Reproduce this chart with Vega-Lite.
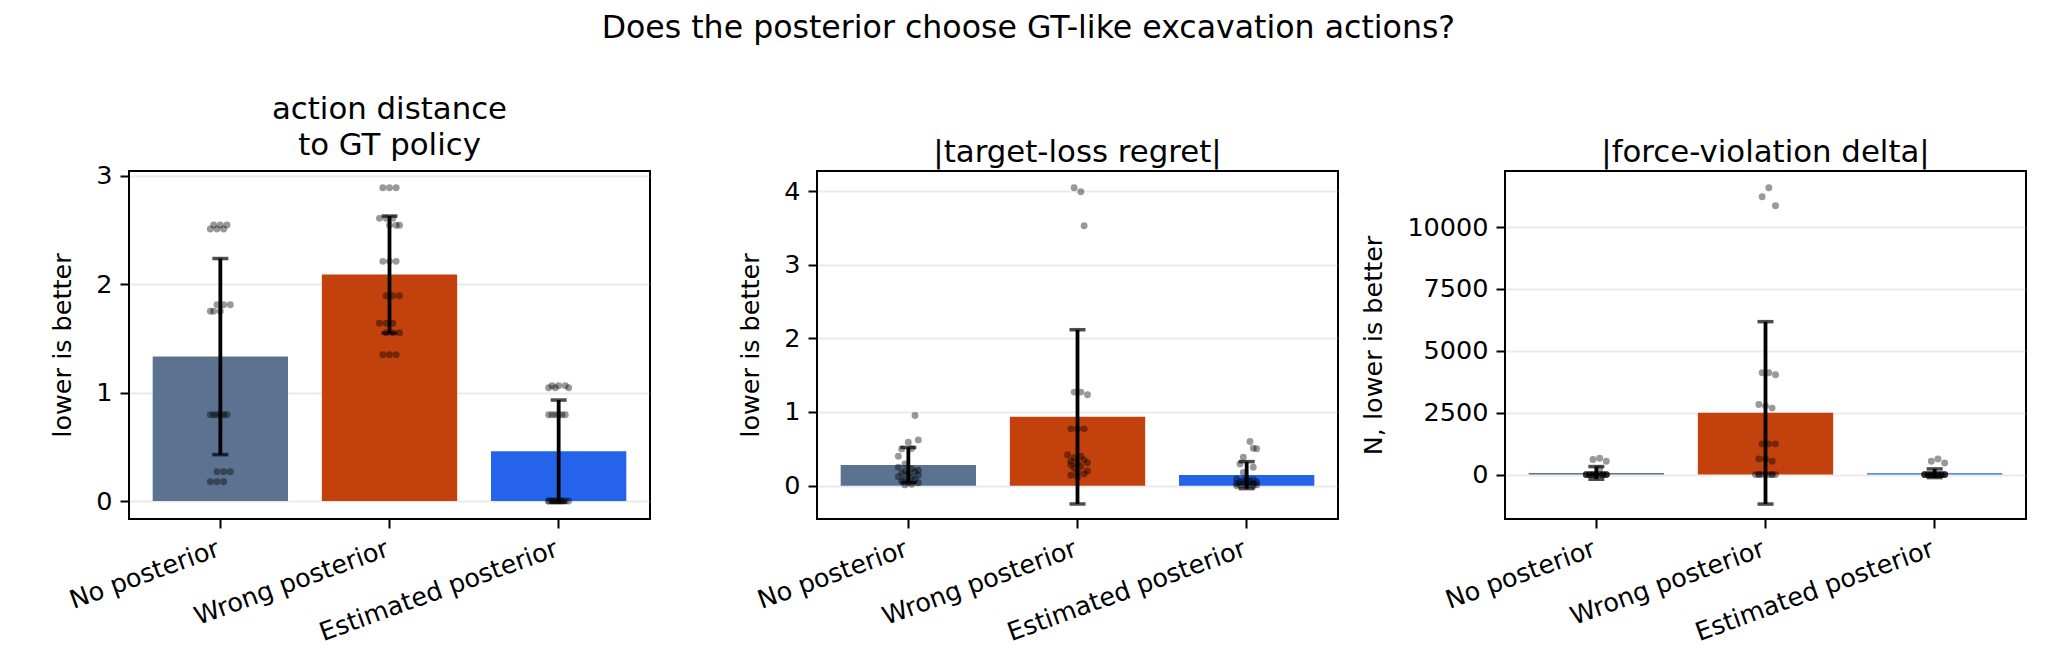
{
  "$schema": "https://vega.github.io/schema/vega-lite/v6.json",
  "background": "white",
  "padding": {"left": 49, "top": 12, "right": 5, "bottom": 5},
  "title": {
    "text": "Does the posterior choose GT-like excavation actions?",
    "font": "DejaVu Sans",
    "fontSize": 31.6,
    "fontWeight": "normal",
    "color": "black",
    "anchor": "middle",
    "frame": "bounds",
    "dx": -10,
    "offset": 49
  },
  "bounds": "flush",
  "spacing": 167,
  "config": {
    "view": {"stroke": "black", "strokeWidth": 2},
    "axis": {
      "labelFont": "DejaVu Sans",
      "labelFontSize": 25.5,
      "labelColor": "black",
      "labelLimit": 0,
      "titleFont": "DejaVu Sans",
      "titleFontSize": 25.5,
      "titleFontWeight": "normal",
      "titleColor": "black",
      "tickColor": "black",
      "tickSize": 9,
      "tickWidth": 2,
      "domain": false,
      "labelPadding": 8
    },
    "axisX": {"labelAngle": -20, "labelAlign": "right", "labelBaseline": "top", "labelOffset": -6, "grid": false, "title": null},
    "axisY": {"grid": true, "gridColor": "#b0b0b0", "gridOpacity": 0.25, "gridWidth": 2, "titlePadding": 20, "zindex": 1, "format": "d"},
    "title": {"font": "DejaVu Sans", "fontSize": 30.8, "fontWeight": "normal", "color": "black", "baseline": "bottom", "offset": 2, "lineHeight": 36}
  },
  "datasets": {
    "summary": [
      {"metric": "dist", "group": "No posterior", "mean": 1.333, "sd": 0.905},
      {"metric": "dist", "group": "Wrong posterior", "mean": 2.090, "sd": 0.540},
      {"metric": "dist", "group": "Estimated posterior", "mean": 0.460, "sd": 0.472},
      {"metric": "regret", "group": "No posterior", "mean": 0.280, "sd": 0.238},
      {"metric": "regret", "group": "Wrong posterior", "mean": 0.934, "sd": 1.183},
      {"metric": "regret", "group": "Estimated posterior", "mean": 0.143, "sd": 0.183},
      {"metric": "force", "group": "No posterior", "mean": 68, "sd": 256},
      {"metric": "force", "group": "Wrong posterior", "mean": 2495, "sd": 3685},
      {"metric": "force", "group": "Estimated posterior", "mean": 55, "sd": 175}
    ],
    "points": [
      {"metric": "dist", "group": "No posterior", "value": 2.548, "rep": 1},
      {"metric": "dist", "group": "No posterior", "value": 2.548, "rep": 3},
      {"metric": "dist", "group": "No posterior", "value": 2.548, "rep": 5},
      {"metric": "dist", "group": "No posterior", "value": 2.511, "rep": 0},
      {"metric": "dist", "group": "No posterior", "value": 2.511, "rep": 2},
      {"metric": "dist", "group": "No posterior", "value": 2.511, "rep": 4},
      {"metric": "dist", "group": "No posterior", "value": 1.812, "rep": 2},
      {"metric": "dist", "group": "No posterior", "value": 1.812, "rep": 4},
      {"metric": "dist", "group": "No posterior", "value": 1.812, "rep": 6},
      {"metric": "dist", "group": "No posterior", "value": 1.751, "rep": 0},
      {"metric": "dist", "group": "No posterior", "value": 1.751, "rep": 1},
      {"metric": "dist", "group": "No posterior", "value": 1.751, "rep": 3},
      {"metric": "dist", "group": "No posterior", "value": 0.797, "rep": 0},
      {"metric": "dist", "group": "No posterior", "value": 0.797, "rep": 1},
      {"metric": "dist", "group": "No posterior", "value": 0.797, "rep": 2},
      {"metric": "dist", "group": "No posterior", "value": 0.797, "rep": 3},
      {"metric": "dist", "group": "No posterior", "value": 0.797, "rep": 4},
      {"metric": "dist", "group": "No posterior", "value": 0.797, "rep": 5},
      {"metric": "dist", "group": "No posterior", "value": 0.271, "rep": 2},
      {"metric": "dist", "group": "No posterior", "value": 0.271, "rep": 4},
      {"metric": "dist", "group": "No posterior", "value": 0.271, "rep": 6},
      {"metric": "dist", "group": "No posterior", "value": 0.178, "rep": 0},
      {"metric": "dist", "group": "No posterior", "value": 0.178, "rep": 2},
      {"metric": "dist", "group": "No posterior", "value": 0.178, "rep": 4},
      {"metric": "dist", "group": "Wrong posterior", "value": 2.892, "rep": 1},
      {"metric": "dist", "group": "Wrong posterior", "value": 2.892, "rep": 3},
      {"metric": "dist", "group": "Wrong posterior", "value": 2.892, "rep": 5},
      {"metric": "dist", "group": "Wrong posterior", "value": 2.609, "rep": 0},
      {"metric": "dist", "group": "Wrong posterior", "value": 2.609, "rep": 2},
      {"metric": "dist", "group": "Wrong posterior", "value": 2.609, "rep": 4},
      {"metric": "dist", "group": "Wrong posterior", "value": 2.545, "rep": 3},
      {"metric": "dist", "group": "Wrong posterior", "value": 2.545, "rep": 5},
      {"metric": "dist", "group": "Wrong posterior", "value": 2.545, "rep": 6},
      {"metric": "dist", "group": "Wrong posterior", "value": 2.212, "rep": 1},
      {"metric": "dist", "group": "Wrong posterior", "value": 2.212, "rep": 3},
      {"metric": "dist", "group": "Wrong posterior", "value": 2.212, "rep": 5},
      {"metric": "dist", "group": "Wrong posterior", "value": 1.895, "rep": 2},
      {"metric": "dist", "group": "Wrong posterior", "value": 1.895, "rep": 4},
      {"metric": "dist", "group": "Wrong posterior", "value": 1.895, "rep": 6},
      {"metric": "dist", "group": "Wrong posterior", "value": 1.640, "rep": 0},
      {"metric": "dist", "group": "Wrong posterior", "value": 1.640, "rep": 2},
      {"metric": "dist", "group": "Wrong posterior", "value": 1.640, "rep": 4},
      {"metric": "dist", "group": "Wrong posterior", "value": 1.554, "rep": 2},
      {"metric": "dist", "group": "Wrong posterior", "value": 1.554, "rep": 4},
      {"metric": "dist", "group": "Wrong posterior", "value": 1.554, "rep": 6},
      {"metric": "dist", "group": "Wrong posterior", "value": 1.351, "rep": 1},
      {"metric": "dist", "group": "Wrong posterior", "value": 1.351, "rep": 3},
      {"metric": "dist", "group": "Wrong posterior", "value": 1.351, "rep": 5},
      {"metric": "dist", "group": "Estimated posterior", "value": 1.065, "rep": 1},
      {"metric": "dist", "group": "Estimated posterior", "value": 1.065, "rep": 3},
      {"metric": "dist", "group": "Estimated posterior", "value": 1.065, "rep": 5},
      {"metric": "dist", "group": "Estimated posterior", "value": 1.045, "rep": 0},
      {"metric": "dist", "group": "Estimated posterior", "value": 1.045, "rep": 2},
      {"metric": "dist", "group": "Estimated posterior", "value": 1.045, "rep": 6},
      {"metric": "dist", "group": "Estimated posterior", "value": 0.797, "rep": 0},
      {"metric": "dist", "group": "Estimated posterior", "value": 0.797, "rep": 1},
      {"metric": "dist", "group": "Estimated posterior", "value": 0.797, "rep": 2},
      {"metric": "dist", "group": "Estimated posterior", "value": 0.797, "rep": 3},
      {"metric": "dist", "group": "Estimated posterior", "value": 0.797, "rep": 4},
      {"metric": "dist", "group": "Estimated posterior", "value": 0.797, "rep": 5},
      {"metric": "dist", "group": "Estimated posterior", "value": 0.0, "rep": 0},
      {"metric": "dist", "group": "Estimated posterior", "value": 0.0, "rep": 1},
      {"metric": "dist", "group": "Estimated posterior", "value": 0.0, "rep": 2},
      {"metric": "dist", "group": "Estimated posterior", "value": 0.0, "rep": 3},
      {"metric": "dist", "group": "Estimated posterior", "value": 0.0, "rep": 4},
      {"metric": "dist", "group": "Estimated posterior", "value": 0.0, "rep": 5},
      {"metric": "dist", "group": "Estimated posterior", "value": 0.0, "rep": 6},
      {"metric": "dist", "group": "Estimated posterior", "value": 0.0, "rep": 0},
      {"metric": "dist", "group": "Estimated posterior", "value": 0.0, "rep": 1},
      {"metric": "dist", "group": "Estimated posterior", "value": 0.0, "rep": 2},
      {"metric": "dist", "group": "Estimated posterior", "value": 0.0, "rep": 3},
      {"metric": "dist", "group": "Estimated posterior", "value": 0.0, "rep": 4},

      {"metric": "regret", "group": "No posterior", "value": 0.952, "rep": 5},
      {"metric": "regret", "group": "No posterior", "value": 0.621, "rep": 6},
      {"metric": "regret", "group": "No posterior", "value": 0.590, "rep": 3},
      {"metric": "regret", "group": "No posterior", "value": 0.499, "rep": 1},
      {"metric": "regret", "group": "No posterior", "value": 0.505, "rep": 4},
      {"metric": "regret", "group": "No posterior", "value": 0.400, "rep": 0},
      {"metric": "regret", "group": "No posterior", "value": 0.295, "rep": 2},
      {"metric": "regret", "group": "No posterior", "value": 0.250, "rep": 0},
      {"metric": "regret", "group": "No posterior", "value": 0.230, "rep": 4},
      {"metric": "regret", "group": "No posterior", "value": 0.210, "rep": 6},
      {"metric": "regret", "group": "No posterior", "value": 0.200, "rep": 2},
      {"metric": "regret", "group": "No posterior", "value": 0.190, "rep": 5},
      {"metric": "regret", "group": "No posterior", "value": 0.170, "rep": 1},
      {"metric": "regret", "group": "No posterior", "value": 0.160, "rep": 3},
      {"metric": "regret", "group": "No posterior", "value": 0.140, "rep": 6},
      {"metric": "regret", "group": "No posterior", "value": 0.120, "rep": 0},
      {"metric": "regret", "group": "No posterior", "value": 0.110, "rep": 4},
      {"metric": "regret", "group": "No posterior", "value": 0.090, "rep": 2},
      {"metric": "regret", "group": "No posterior", "value": 0.080, "rep": 5},
      {"metric": "regret", "group": "No posterior", "value": 0.060, "rep": 1},
      {"metric": "regret", "group": "No posterior", "value": 0.050, "rep": 3},
      {"metric": "regret", "group": "No posterior", "value": 0.040, "rep": 6},
      {"metric": "regret", "group": "No posterior", "value": 0.020, "rep": 4},
      {"metric": "regret", "group": "No posterior", "value": 0.010, "rep": 2},
      {"metric": "regret", "group": "Wrong posterior", "value": 4.045, "rep": 2},
      {"metric": "regret", "group": "Wrong posterior", "value": 3.991, "rep": 4},
      {"metric": "regret", "group": "Wrong posterior", "value": 3.528, "rep": 5},
      {"metric": "regret", "group": "Wrong posterior", "value": 1.270, "rep": 2},
      {"metric": "regret", "group": "Wrong posterior", "value": 1.270, "rep": 4},
      {"metric": "regret", "group": "Wrong posterior", "value": 1.234, "rep": 6},
      {"metric": "regret", "group": "Wrong posterior", "value": 0.771, "rep": 1},
      {"metric": "regret", "group": "Wrong posterior", "value": 0.771, "rep": 3},
      {"metric": "regret", "group": "Wrong posterior", "value": 0.771, "rep": 5},
      {"metric": "regret", "group": "Wrong posterior", "value": 0.420, "rep": 0},
      {"metric": "regret", "group": "Wrong posterior", "value": 0.400, "rep": 4},
      {"metric": "regret", "group": "Wrong posterior", "value": 0.380, "rep": 2},
      {"metric": "regret", "group": "Wrong posterior", "value": 0.350, "rep": 5},
      {"metric": "regret", "group": "Wrong posterior", "value": 0.330, "rep": 1},
      {"metric": "regret", "group": "Wrong posterior", "value": 0.310, "rep": 6},
      {"metric": "regret", "group": "Wrong posterior", "value": 0.300, "rep": 3},
      {"metric": "regret", "group": "Wrong posterior", "value": 0.280, "rep": 1},
      {"metric": "regret", "group": "Wrong posterior", "value": 0.260, "rep": 4},
      {"metric": "regret", "group": "Wrong posterior", "value": 0.240, "rep": 2},
      {"metric": "regret", "group": "Wrong posterior", "value": 0.200, "rep": 6},
      {"metric": "regret", "group": "Wrong posterior", "value": 0.180, "rep": 3},
      {"metric": "regret", "group": "Wrong posterior", "value": 0.160, "rep": 5},
      {"metric": "regret", "group": "Wrong posterior", "value": 0.140, "rep": 1},
      {"metric": "regret", "group": "Wrong posterior", "value": 0.120, "rep": 3},
      {"metric": "regret", "group": "Estimated posterior", "value": 0.599, "rep": 4},
      {"metric": "regret", "group": "Estimated posterior", "value": 0.508, "rep": 5},
      {"metric": "regret", "group": "Estimated posterior", "value": 0.500, "rep": 6},
      {"metric": "regret", "group": "Estimated posterior", "value": 0.385, "rep": 2},
      {"metric": "regret", "group": "Estimated posterior", "value": 0.295, "rep": 1},
      {"metric": "regret", "group": "Estimated posterior", "value": 0.250, "rep": 5},
      {"metric": "regret", "group": "Estimated posterior", "value": 0.180, "rep": 2},
      {"metric": "regret", "group": "Estimated posterior", "value": 0.100, "rep": 3},
      {"metric": "regret", "group": "Estimated posterior", "value": 0.090, "rep": 0},
      {"metric": "regret", "group": "Estimated posterior", "value": 0.080, "rep": 5},
      {"metric": "regret", "group": "Estimated posterior", "value": 0.070, "rep": 2},
      {"metric": "regret", "group": "Estimated posterior", "value": 0.060, "rep": 4},
      {"metric": "regret", "group": "Estimated posterior", "value": 0.050, "rep": 1},
      {"metric": "regret", "group": "Estimated posterior", "value": 0.050, "rep": 6},
      {"metric": "regret", "group": "Estimated posterior", "value": 0.040, "rep": 3},
      {"metric": "regret", "group": "Estimated posterior", "value": 0.030, "rep": 0},
      {"metric": "regret", "group": "Estimated posterior", "value": 0.030, "rep": 5},
      {"metric": "regret", "group": "Estimated posterior", "value": 0.020, "rep": 2},
      {"metric": "regret", "group": "Estimated posterior", "value": 0.020, "rep": 4},
      {"metric": "regret", "group": "Estimated posterior", "value": 0.010, "rep": 1},
      {"metric": "regret", "group": "Estimated posterior", "value": 0.010, "rep": 6},
      {"metric": "regret", "group": "Estimated posterior", "value": 0.000, "rep": 3},
      {"metric": "regret", "group": "Estimated posterior", "value": 0.000, "rep": 0},
      {"metric": "regret", "group": "Estimated posterior", "value": 0.000, "rep": 5},

      {"metric": "force", "group": "No posterior", "value": 661, "rep": 4},
      {"metric": "force", "group": "No posterior", "value": 607, "rep": 2},
      {"metric": "force", "group": "No posterior", "value": 540, "rep": 6},
      {"metric": "force", "group": "No posterior", "value": 230, "rep": 4},
      {"metric": "force", "group": "No posterior", "value": 0, "rep": 0},
      {"metric": "force", "group": "No posterior", "value": 0, "rep": 1},
      {"metric": "force", "group": "No posterior", "value": 0, "rep": 2},
      {"metric": "force", "group": "No posterior", "value": 0, "rep": 3},
      {"metric": "force", "group": "No posterior", "value": 0, "rep": 4},
      {"metric": "force", "group": "No posterior", "value": 0, "rep": 5},
      {"metric": "force", "group": "No posterior", "value": 0, "rep": 6},
      {"metric": "force", "group": "No posterior", "value": 0, "rep": 0},
      {"metric": "force", "group": "No posterior", "value": 0, "rep": 1},
      {"metric": "force", "group": "No posterior", "value": 0, "rep": 2},
      {"metric": "force", "group": "No posterior", "value": 0, "rep": 3},
      {"metric": "force", "group": "No posterior", "value": 0, "rep": 4},
      {"metric": "force", "group": "No posterior", "value": 0, "rep": 5},
      {"metric": "force", "group": "No posterior", "value": 0, "rep": 6},
      {"metric": "force", "group": "No posterior", "value": 0, "rep": 1},
      {"metric": "force", "group": "No posterior", "value": 0, "rep": 3},
      {"metric": "force", "group": "No posterior", "value": 0, "rep": 5},
      {"metric": "force", "group": "No posterior", "value": 0, "rep": 0},
      {"metric": "force", "group": "No posterior", "value": 0, "rep": 2},
      {"metric": "force", "group": "No posterior", "value": 0, "rep": 6},
      {"metric": "force", "group": "Wrong posterior", "value": 11590, "rep": 4},
      {"metric": "force", "group": "Wrong posterior", "value": 11230, "rep": 2},
      {"metric": "force", "group": "Wrong posterior", "value": 10860, "rep": 6},
      {"metric": "force", "group": "Wrong posterior", "value": 4116, "rep": 2},
      {"metric": "force", "group": "Wrong posterior", "value": 4116, "rep": 4},
      {"metric": "force", "group": "Wrong posterior", "value": 4035, "rep": 6},
      {"metric": "force", "group": "Wrong posterior", "value": 2834, "rep": 1},
      {"metric": "force", "group": "Wrong posterior", "value": 2767, "rep": 3},
      {"metric": "force", "group": "Wrong posterior", "value": 2686, "rep": 5},
      {"metric": "force", "group": "Wrong posterior", "value": 1242, "rep": 2},
      {"metric": "force", "group": "Wrong posterior", "value": 1242, "rep": 4},
      {"metric": "force", "group": "Wrong posterior", "value": 1242, "rep": 6},
      {"metric": "force", "group": "Wrong posterior", "value": 634, "rep": 1},
      {"metric": "force", "group": "Wrong posterior", "value": 634, "rep": 3},
      {"metric": "force", "group": "Wrong posterior", "value": 540, "rep": 5},
      {"metric": "force", "group": "Wrong posterior", "value": 0, "rep": 0},
      {"metric": "force", "group": "Wrong posterior", "value": 0, "rep": 1},
      {"metric": "force", "group": "Wrong posterior", "value": 0, "rep": 2},
      {"metric": "force", "group": "Wrong posterior", "value": 0, "rep": 3},
      {"metric": "force", "group": "Wrong posterior", "value": 0, "rep": 4},
      {"metric": "force", "group": "Wrong posterior", "value": 0, "rep": 5},
      {"metric": "force", "group": "Wrong posterior", "value": 0, "rep": 6},
      {"metric": "force", "group": "Wrong posterior", "value": 0, "rep": 1},
      {"metric": "force", "group": "Wrong posterior", "value": 0, "rep": 5},
      {"metric": "force", "group": "Estimated posterior", "value": 634, "rep": 4},
      {"metric": "force", "group": "Estimated posterior", "value": 540, "rep": 2},
      {"metric": "force", "group": "Estimated posterior", "value": 472, "rep": 6},
      {"metric": "force", "group": "Estimated posterior", "value": 0, "rep": 0},
      {"metric": "force", "group": "Estimated posterior", "value": 0, "rep": 1},
      {"metric": "force", "group": "Estimated posterior", "value": 0, "rep": 2},
      {"metric": "force", "group": "Estimated posterior", "value": 0, "rep": 3},
      {"metric": "force", "group": "Estimated posterior", "value": 0, "rep": 4},
      {"metric": "force", "group": "Estimated posterior", "value": 0, "rep": 5},
      {"metric": "force", "group": "Estimated posterior", "value": 0, "rep": 6},
      {"metric": "force", "group": "Estimated posterior", "value": 0, "rep": 0},
      {"metric": "force", "group": "Estimated posterior", "value": 0, "rep": 1},
      {"metric": "force", "group": "Estimated posterior", "value": 0, "rep": 2},
      {"metric": "force", "group": "Estimated posterior", "value": 0, "rep": 3},
      {"metric": "force", "group": "Estimated posterior", "value": 0, "rep": 4},
      {"metric": "force", "group": "Estimated posterior", "value": 0, "rep": 5},
      {"metric": "force", "group": "Estimated posterior", "value": 0, "rep": 6},
      {"metric": "force", "group": "Estimated posterior", "value": 0, "rep": 1},
      {"metric": "force", "group": "Estimated posterior", "value": 0, "rep": 3},
      {"metric": "force", "group": "Estimated posterior", "value": 0, "rep": 5},
      {"metric": "force", "group": "Estimated posterior", "value": 0, "rep": 0},
      {"metric": "force", "group": "Estimated posterior", "value": 0, "rep": 2},
      {"metric": "force", "group": "Estimated posterior", "value": 0, "rep": 6},
      {"metric": "force", "group": "Estimated posterior", "value": 0, "rep": 4}
    ]
  },
  "hconcat": [
    {
      "width": 521,
      "height": 348,
      "title": {"text": ["action distance", "to GT policy"]},
      "resolve": {"scale": {"x": "independent", "xOffset": "independent"}, "axis": {"x": "independent"}},
      "layer": [
        {
          "data": {"name": "summary"},
          "transform": [{"filter": "datum.metric === 'dist'"}],
          "mark": {"type": "bar"},
          "encoding": {
            "x": {"field": "group", "type": "nominal", "sort": ["No posterior", "Wrong posterior", "Estimated posterior"], "scale": {"paddingInner": 0.2, "paddingOuter": 0.14}},
            "y": {"field": "mean", "type": "quantitative", "title": "lower is better", "scale": {"domain": [-0.166, 3.046], "nice": false, "zero": false}, "axis": {"values": [0, 1, 2, 3]}},
            "color": {"field": "group", "type": "nominal", "legend": null, "scale": {"domain": ["No posterior", "Wrong posterior", "Estimated posterior"], "range": ["#5b7290", "#c2410c", "#2563eb"]}}
          }
        },
        {
          "data": {"name": "summary"},
          "transform": [{"filter": "datum.metric === 'dist'"}],
          "mark": {"type": "errorbar", "ticks": {"size": 16, "thickness": 3.5, "color": "black"}, "rule": {"strokeWidth": 3.8, "color": "black"}},
          "encoding": {
            "x": {"field": "group", "type": "nominal", "sort": ["No posterior", "Wrong posterior", "Estimated posterior"], "scale": {"paddingInner": 0.2, "paddingOuter": 0.14}, "axis": null},
            "y": {"field": "mean", "type": "quantitative", "title": "lower is better"},
            "yError": {"field": "sd"}
          }
        },
        {
          "data": {"name": "points"},
          "transform": [{"filter": "datum.metric === 'dist'"}],
          "mark": {"type": "circle", "size": 48, "color": "black", "opacity": 0.4},
          "encoding": {
            "x": {"field": "group", "type": "nominal", "sort": ["No posterior", "Wrong posterior", "Estimated posterior"], "scale": {"paddingInner": 0.2, "paddingOuter": 0.14}, "axis": null},
            "xOffset": {"field": "rep", "type": "quantitative", "scale": {"domain": [0, 6], "range": [57.65, 77.65]}},
            "y": {"field": "value", "type": "quantitative", "title": "lower is better"}
          }
        }
      ]
    },
    {
      "width": 521,
      "height": 348,
      "title": {"text": "|target-loss regret|"},
      "resolve": {"scale": {"x": "independent", "xOffset": "independent"}, "axis": {"x": "independent"}},
      "layer": [
        {
          "data": {"name": "summary"},
          "transform": [{"filter": "datum.metric === 'regret'"}],
          "mark": {"type": "bar"},
          "encoding": {
            "x": {"field": "group", "type": "nominal", "sort": ["No posterior", "Wrong posterior", "Estimated posterior"], "scale": {"paddingInner": 0.2, "paddingOuter": 0.14}},
            "y": {"field": "mean", "type": "quantitative", "title": "lower is better", "scale": {"domain": [-0.453, 4.272], "nice": false, "zero": false}, "axis": {"values": [0, 1, 2, 3, 4]}},
            "color": {"field": "group", "type": "nominal", "legend": null, "scale": {"domain": ["No posterior", "Wrong posterior", "Estimated posterior"], "range": ["#5b7290", "#c2410c", "#2563eb"]}}
          }
        },
        {
          "data": {"name": "summary"},
          "transform": [{"filter": "datum.metric === 'regret'"}],
          "mark": {"type": "errorbar", "ticks": {"size": 16, "thickness": 3.5, "color": "black"}, "rule": {"strokeWidth": 3.8, "color": "black"}},
          "encoding": {
            "x": {"field": "group", "type": "nominal", "sort": ["No posterior", "Wrong posterior", "Estimated posterior"], "scale": {"paddingInner": 0.2, "paddingOuter": 0.14}, "axis": null},
            "y": {"field": "mean", "type": "quantitative", "title": "lower is better"},
            "yError": {"field": "sd"}
          }
        },
        {
          "data": {"name": "points"},
          "transform": [{"filter": "datum.metric === 'regret'"}],
          "mark": {"type": "circle", "size": 48, "color": "black", "opacity": 0.4},
          "encoding": {
            "x": {"field": "group", "type": "nominal", "sort": ["No posterior", "Wrong posterior", "Estimated posterior"], "scale": {"paddingInner": 0.2, "paddingOuter": 0.14}, "axis": null},
            "xOffset": {"field": "rep", "type": "quantitative", "scale": {"domain": [0, 6], "range": [57.65, 77.65]}},
            "y": {"field": "value", "type": "quantitative", "title": "lower is better"}
          }
        }
      ]
    },
    {
      "width": 521,
      "height": 348,
      "title": {"text": "|force-violation delta|"},
      "resolve": {"scale": {"x": "independent", "xOffset": "independent"}, "axis": {"x": "independent"}},
      "layer": [
        {
          "data": {"name": "summary"},
          "transform": [{"filter": "datum.metric === 'force'"}],
          "mark": {"type": "bar"},
          "encoding": {
            "x": {"field": "group", "type": "nominal", "sort": ["No posterior", "Wrong posterior", "Estimated posterior"], "scale": {"paddingInner": 0.2, "paddingOuter": 0.14}},
            "y": {"field": "mean", "type": "quantitative", "title": "N, lower is better", "scale": {"domain": [-1794, 12267], "nice": false, "zero": false}, "axis": {"values": [0, 2500, 5000, 7500, 10000]}},
            "color": {"field": "group", "type": "nominal", "legend": null, "scale": {"domain": ["No posterior", "Wrong posterior", "Estimated posterior"], "range": ["#5b7290", "#c2410c", "#2563eb"]}}
          }
        },
        {
          "data": {"name": "summary"},
          "transform": [{"filter": "datum.metric === 'force'"}],
          "mark": {"type": "errorbar", "ticks": {"size": 16, "thickness": 3.5, "color": "black"}, "rule": {"strokeWidth": 3.8, "color": "black"}},
          "encoding": {
            "x": {"field": "group", "type": "nominal", "sort": ["No posterior", "Wrong posterior", "Estimated posterior"], "scale": {"paddingInner": 0.2, "paddingOuter": 0.14}, "axis": null},
            "y": {"field": "mean", "type": "quantitative", "title": "N, lower is better"},
            "yError": {"field": "sd"}
          }
        },
        {
          "data": {"name": "points"},
          "transform": [{"filter": "datum.metric === 'force'"}],
          "mark": {"type": "circle", "size": 48, "color": "black", "opacity": 0.4},
          "encoding": {
            "x": {"field": "group", "type": "nominal", "sort": ["No posterior", "Wrong posterior", "Estimated posterior"], "scale": {"paddingInner": 0.2, "paddingOuter": 0.14}, "axis": null},
            "xOffset": {"field": "rep", "type": "quantitative", "scale": {"domain": [0, 6], "range": [57.65, 77.65]}},
            "y": {"field": "value", "type": "quantitative", "title": "N, lower is better"}
          }
        }
      ]
    }
  ]
}
